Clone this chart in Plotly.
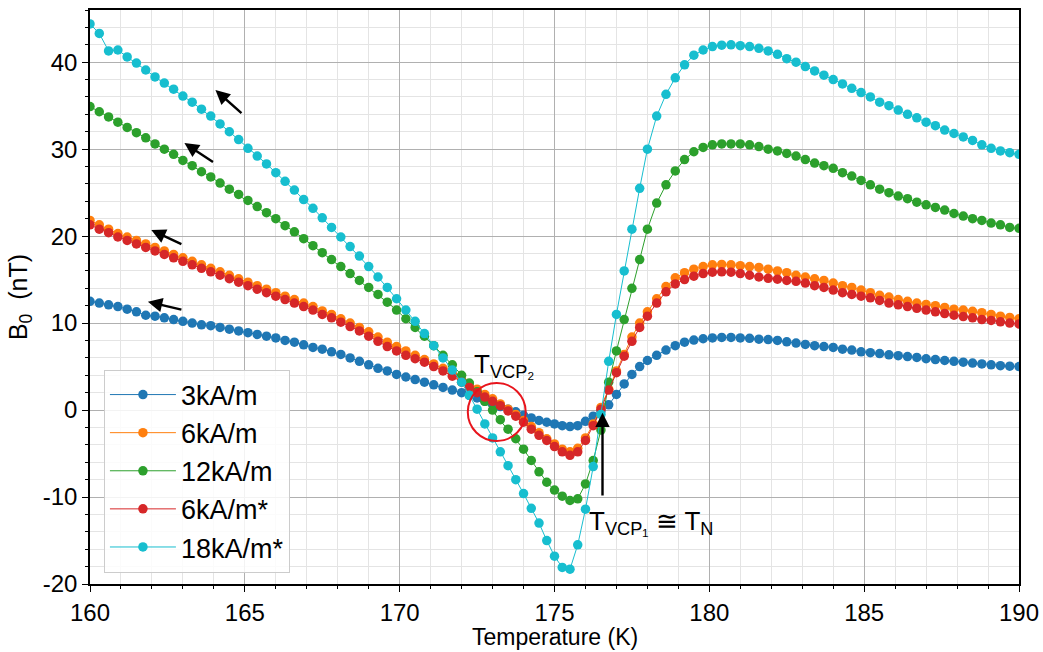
import plotly.graph_objects as go

# ---- temperature sampling (K) ----
T_left = [160.0, 160.3, 160.6, 160.9, 161.2, 161.5, 161.8, 162.1, 162.4, 162.7,
          163.0, 163.3, 163.6, 163.9, 164.2, 164.5, 164.8, 165.1, 165.4, 165.7,
          166.0, 166.3, 166.6, 166.9, 167.2, 167.5, 167.8, 168.1, 168.4, 168.7,
          169.0, 169.3, 169.6, 169.9, 170.2, 170.5, 170.8, 171.1, 171.4, 171.7, 172.0]
T_mid = [172.25, 172.5, 172.75, 173.0, 173.25, 173.5, 173.75, 174.0, 174.25, 174.5,
         174.75, 175.0, 175.25, 175.5, 175.75, 176.0, 176.25, 176.5, 176.75, 177.0,
         177.25, 177.5, 177.75, 178.0]
T_right = [178.3, 178.6, 178.9, 179.2, 179.5, 179.8, 180.1, 180.4, 180.7, 181.0,
           181.3, 181.6, 181.9, 182.2, 182.5, 182.8, 183.1, 183.4, 183.7, 184.0,
           184.3, 184.6, 184.9, 185.2, 185.5, 185.8, 186.1, 186.4, 186.7, 187.0,
           187.3, 187.6, 187.9, 188.2, 188.5, 188.8, 189.1, 189.4, 189.7, 190.0]
T = T_left + T_mid + T_right

# ---- B0 (nT) per series ----
b_3k = [12.5, 12.3, 12.1, 11.9, 11.6, 11.3, 10.9, 10.8, 10.6, 10.4,
        10.2, 10.0, 9.8, 9.7, 9.5, 9.3, 9.1, 8.9, 8.7, 8.5,
        8.3, 8.0, 7.8, 7.5, 7.2, 7.0, 6.7, 6.4, 6.0, 5.6,
        5.2, 4.8, 4.5, 4.1, 3.8, 3.5, 3.2, 2.9, 2.6, 2.3, 2.0,
        1.7, 1.4, 1.0, 0.7, 0.4, 0.1, -0.2, -0.6, -0.9, -1.2,
        -1.4, -1.6, -1.8, -1.9, -1.8, -1.3, -0.7, -0.1, 0.6, 1.8,
        3.0, 4.1, 5.0, 5.7,
        6.3, 6.9, 7.4, 7.8, 8.05, 8.2, 8.3, 8.35, 8.35, 8.3,
        8.25, 8.15, 8.1, 8.0, 7.85, 7.7, 7.55, 7.4, 7.3, 7.2,
        7.0, 6.9, 6.7, 6.6, 6.5, 6.35, 6.25, 6.15, 6.05, 5.9,
        5.8, 5.7, 5.6, 5.5, 5.4, 5.3, 5.2, 5.1, 5.05, 5.0]

b_6k = [21.8, 21.3, 20.8, 20.3, 19.9, 19.5, 19.1, 18.7, 18.3, 17.9,
        17.5, 17.1, 16.7, 16.3, 15.9, 15.5, 15.1, 14.7, 14.3, 13.9,
        13.5, 13.1, 12.7, 12.3, 11.9, 11.4, 11.0, 10.5, 10.0, 9.5,
        9.0, 8.4, 7.8, 7.3, 6.8, 6.3, 5.8, 5.3, 4.8, 4.2, 3.5,
        3.0, 2.4, 1.8, 1.3, 0.7, 0.1, -0.5, -1.2, -1.9, -2.6,
        -3.3, -3.9, -4.5, -4.8, -4.4, -3.2, -1.6, 0.3, 2.4, 4.5,
        6.4, 8.4, 10.0, 11.3,
        12.8, 14.2, 15.2, 15.8, 16.2, 16.5, 16.7, 16.75, 16.7, 16.6,
        16.5, 16.4, 16.2, 16.0, 15.8, 15.5, 15.3, 15.1, 14.9, 14.6,
        14.3, 14.1, 13.8, 13.5, 13.2, 13.0, 12.7, 12.5, 12.3, 12.15,
        12.0, 11.8, 11.6, 11.5, 11.35, 11.2, 11.0, 10.8, 10.65, 10.5]

b_12k = [34.9, 34.3, 33.7, 33.1, 32.5, 31.9, 31.3, 30.6, 30.0, 29.4,
         28.7, 28.1, 27.4, 26.8, 26.1, 25.4, 24.8, 24.1, 23.4, 22.7,
         22.0, 21.2, 20.5, 19.7, 18.9, 18.1, 17.3, 16.5, 15.7, 14.9,
         14.1, 13.3, 12.4, 11.5, 10.5, 9.5, 8.5, 7.4, 6.3, 5.2, 4.0,
         3.1, 2.1, 1.0, 0.0, -1.1, -2.2, -3.3, -4.5, -5.8, -7.1,
         -8.3, -9.2, -9.9, -10.4, -10.2, -8.5, -5.8, -2.3, 3.2, 6.8,
         10.4, 14.0, 17.3, 20.8,
         23.8, 25.9, 27.5, 28.8, 29.7, 30.2, 30.5, 30.6, 30.6, 30.6,
         30.5, 30.3, 30.0, 29.8, 29.5, 29.2, 28.8, 28.4, 28.1, 27.8,
         27.3, 26.9, 26.4, 25.9, 25.4, 25.0, 24.6, 24.3, 23.9, 23.6,
         23.3, 23.0, 22.6, 22.3, 22.0, 21.8, 21.5, 21.3, 21.0, 20.9]

b_6k_star = [21.3, 20.8, 20.4, 19.9, 19.5, 19.1, 18.7, 18.3, 17.9, 17.5,
             17.1, 16.7, 16.3, 15.9, 15.5, 15.1, 14.7, 14.3, 13.9, 13.5,
             13.1, 12.7, 12.3, 11.9, 11.5, 11.0, 10.6, 10.1, 9.6, 9.1,
             8.5, 7.9, 7.3, 6.8, 6.3, 5.9, 5.5, 5.0, 4.5, 3.9, 3.2,
             2.6, 2.0, 1.5, 1.0, 0.5, -0.1, -0.7, -1.4, -2.2, -2.9,
             -3.5, -4.2, -4.8, -5.2, -4.8, -3.5, -1.8, 0.1, 2.3, 4.3,
             6.2, 7.9, 9.5, 10.8,
             12.3, 13.6, 14.5, 15.0, 15.4, 15.7, 15.85, 15.9, 15.85, 15.7,
             15.5, 15.3, 15.15, 15.05, 14.9, 14.8, 14.6, 14.3, 14.1, 13.8,
             13.5, 13.3, 13.1, 12.9, 12.6, 12.3, 12.1, 11.9, 11.7, 11.5,
             11.3, 11.1, 10.9, 10.75, 10.6, 10.4, 10.3, 10.15, 10.0, 9.9]

b_18k_star = [44.4, 43.3, 41.3, 41.4, 40.6, 39.9, 39.1, 38.3, 37.6, 36.9,
              36.1, 35.4, 34.6, 33.8, 32.9, 32.0, 31.1, 30.1, 29.2, 28.3,
              27.3, 26.3, 25.3, 24.2, 23.2, 22.1, 21.0, 19.9, 18.8, 17.7,
              16.5, 15.3, 14.1, 12.8, 11.5, 10.2, 8.8, 7.4, 6.0, 4.6, 3.2,
              1.7, 0.1, -1.6, -3.2, -4.8, -6.4, -8.0, -9.6, -11.3, -13.0,
              -15.0, -16.8, -18.1, -18.3, -15.5, -11.4, -6.5, -0.5, 5.6, 11.0,
              16.0, 20.8, 25.5, 30.0,
              33.8, 36.3, 38.2, 39.7, 40.8, 41.4, 41.8, 41.95, 42.0, 41.9,
              41.8, 41.6, 41.3, 40.9, 40.4, 40.0, 39.5, 39.0, 38.5, 38.0,
              37.5, 37.0, 36.5, 36.0, 35.4, 35.0, 34.5, 34.0, 33.6, 33.1,
              32.7, 32.2, 31.8, 31.4, 31.0, 30.5, 30.1, 29.8, 29.6, 29.4]

series_names = ["3kA/m", "6kA/m", "12kA/m", "6kA/m*", "18kA/m*"]
series_values = [b_3k, b_6k, b_12k, b_6k_star, b_18k_star]
series_colors = ["#1f77b4", "#ff7f0e", "#2ca02c", "#d62728", "#17becf"]

x_ticks = [160, 165, 170, 175, 180, 185, 190]
y_ticks = [-20, -10, 0, 10, 20, 30, 40]
y_ticklabels = ["-20", "-10", "0", "10", "20", "30", "40"]

fig = go.Figure()
for name, vals, col in zip(series_names, series_values, series_colors):
    assert len(vals) == len(T)
    fig.add_trace(go.Scatter(
        x=T, y=vals, name=name, mode="lines+markers",
        line=dict(color=col, width=1),
        marker=dict(color=col, size=9.5),
    ))

# direction arrows (heating/cooling) - (tail, head) in data coords
arrow_pairs = [((164.94, 34.0), (164.05, 36.8)),
               ((164.02, 28.4), (163.05, 30.7)),
               ((163.0, 19.0), (161.98, 20.7)),
               ((163.0, 11.5), (161.87, 12.45))]
annotations = []
for (tx, ty), (hx, hy) in arrow_pairs:
    annotations.append(dict(x=hx, y=hy, ax=tx, ay=ty, xref="x", yref="y",
                            axref="x", ayref="y", text="", showarrow=True,
                            arrowhead=2, arrowsize=1.2, arrowwidth=2.4,
                            arrowcolor="black"))
# T_N arrow
annotations.append(dict(x=176.55, y=-0.3, ax=176.55, ay=-10.0, xref="x", yref="y",
                        axref="x", ayref="y", text="", showarrow=True,
                        arrowhead=2, arrowsize=1.2, arrowwidth=2.4, arrowcolor="black"))
annotations.append(dict(x=176.05, y=-10.8, xref="x", yref="y",
                        text="T<sub>VCP₁</sub> ≅ T<sub>N</sub>",
                        showarrow=False, xanchor="left", yanchor="top",
                        font=dict(family="Liberation Sans", size=26, color="black")))
annotations.append(dict(x=172.35, y=3.0, xref="x", yref="y", text="T<sub>VCP₂</sub>",
                        showarrow=False, xanchor="left", yanchor="bottom",
                        font=dict(family="Liberation Sans", size=26, color="black")))
# x-axis title (as annotation to control its position)
annotations.append(dict(x=0.5, y=-0.093, xref="paper", yref="paper",
                        text="Temperature (K)", showarrow=False,
                        xanchor="center", yanchor="middle",
                        font=dict(family="Liberation Sans", size=23, color="black")))

fig.update_layout(
    width=1043, height=652,
    margin=dict(l=90, r=24, t=10, b=68, autoexpand=False),
    paper_bgcolor="white", plot_bgcolor="white",
    annotations=annotations,
    shapes=[dict(type="circle", xref="x", yref="y", x0=172.2, x1=174.07,
                 y0=-3.55, y1=3.1, line=dict(color="#e8141c", width=2))],
    legend=dict(x=0.015, y=0.02, xanchor="left", yanchor="bottom",
                bgcolor="rgba(255,255,255,0.85)", bordercolor="#cccccc", borderwidth=1,
                font=dict(family="Liberation Sans", size=27, color="black"),
                itemwidth=66, tracegroupgap=0),
    showlegend=True,
)
axis_common = dict(showline=True, linecolor="black", linewidth=1.5, mirror=True,
                   ticks="outside", ticklen=6, tickcolor="black", automargin=False,
                   showgrid=True, gridcolor="#b0b0b0", gridwidth=1, zeroline=False,
                   tickfont=dict(family="Liberation Sans", size=24, color="black"))
fig.update_xaxes(range=[160, 190], tickvals=x_ticks,
                 minor=dict(dtick=1, tick0=160, showgrid=True, gridcolor="#e4e4e4",
                            ticks="outside", ticklen=3, tickcolor="black"),
                 **axis_common)
fig.update_yaxes(range=[-20, 46], tickvals=y_ticks, ticktext=y_ticklabels,
                 title=dict(text="B<sub>0</sub>  (nT)", standoff=8,
                            font=dict(family="Liberation Sans", size=25, color="black")),
                 minor=dict(dtick=2, tick0=0, showgrid=True, gridcolor="#e4e4e4",
                            ticks="outside", ticklen=3, tickcolor="black"),
                 **axis_common)

fig.write_html("out.html", config={"displayModeBar": False},
               post_script="document.body.style.margin='0';document.body.style.overflow='hidden';")
